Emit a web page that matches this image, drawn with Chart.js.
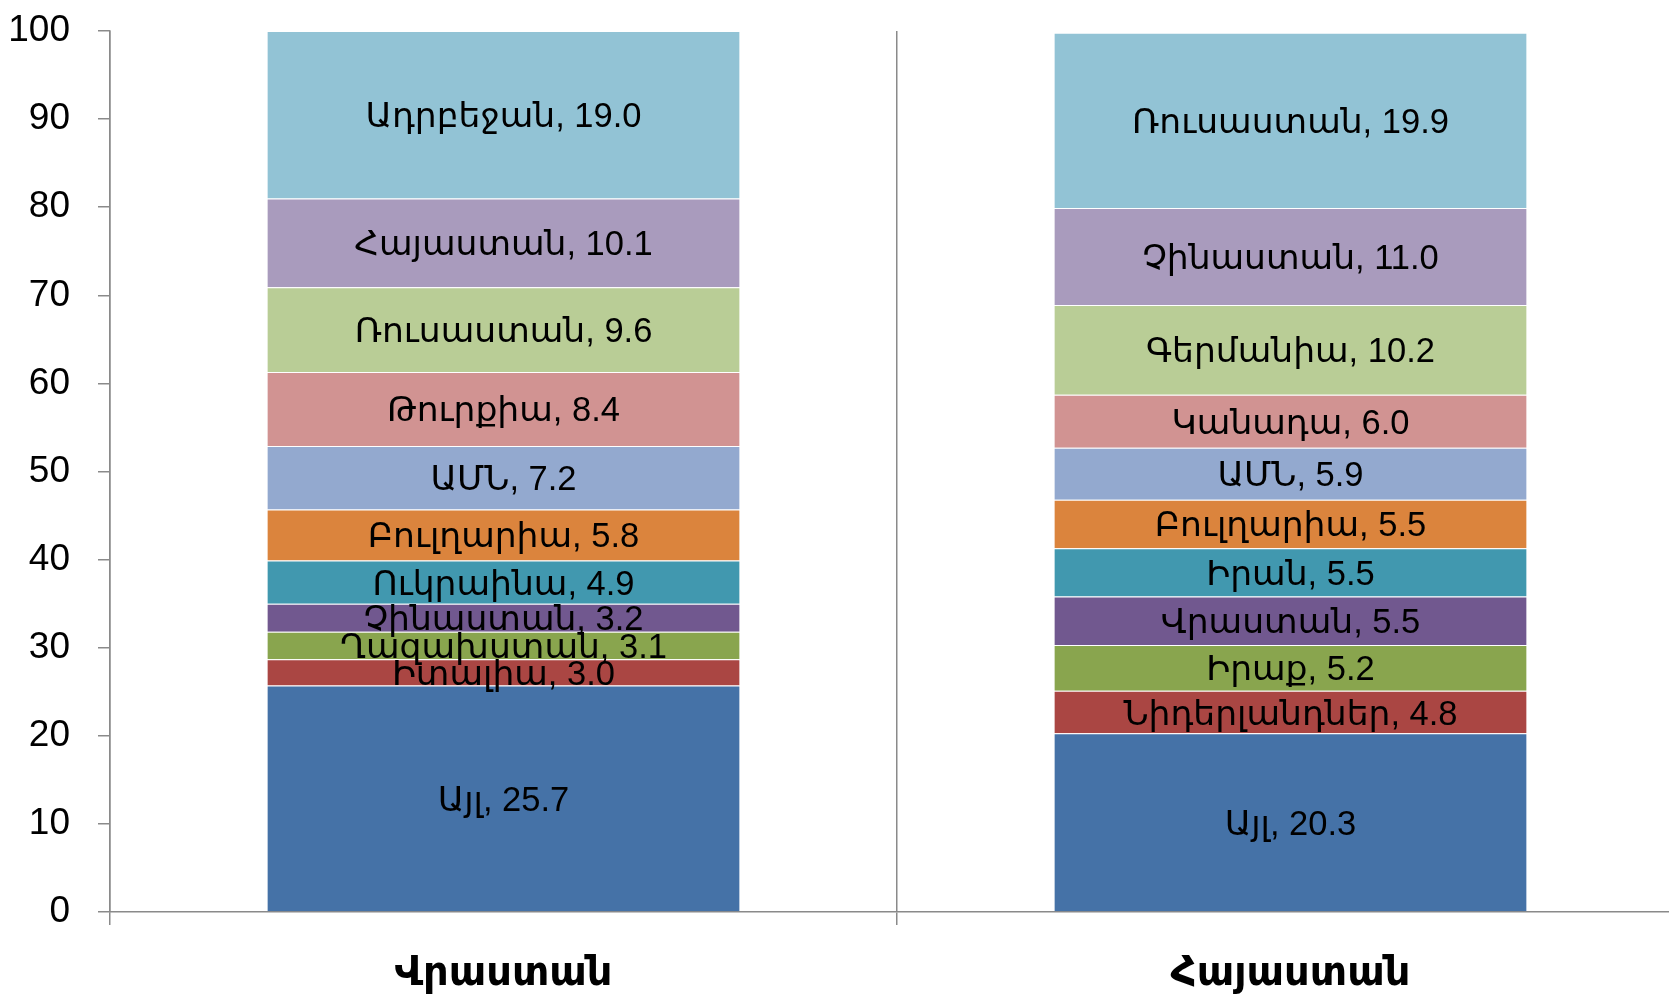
<!DOCTYPE html>
<html>
<head>
<meta charset="utf-8">
<script src="https://cdn.jsdelivr.net/npm/chart.js@4/dist/chart.umd.min.js"></script>
<style>
  html, body { margin: 0; padding: 0; background: #fff; overflow: hidden; }
  #wrap { width: 1669px; height: 998px; overflow: hidden; }
</style>
</head>
<body>
<div id="wrap"><canvas id="chart" width="1684" height="998"></canvas></div>
<script>
// ── DONNÉES ───────────────────────────────────────
const categories = ['Վրաստան', 'Հայաստան'];

const georgiaNames  = ['Այլ', 'Իտալիա', 'Ղազախստան', 'Չինաստան', 'Ուկրաինա', 'Բուլղարիա', 'ԱՄՆ', 'Թուրքիա', 'Ռուսաստան', 'Հայաստան', 'Ադրբեջան'];
const georgiaValues = [25.7, 3.0, 3.1, 3.2, 4.9, 5.8, 7.2, 8.4, 9.6, 10.1, 19.0];

const armeniaNames  = ['Այլ', 'Նիդերլանդներ', 'Իրաք', 'Վրաստան', 'Իրան', 'Բուլղարիա', 'ԱՄՆ', 'Կանադա', 'Գերմանիա', 'Չինաստան', 'Ռուսաստան'];
const armeniaValues = [20.3, 4.8, 5.2, 5.5, 5.5, 5.5, 5.9, 6.0, 10.2, 11.0, 19.9];

const yTicks = [0, 10, 20, 30, 40, 50, 60, 70, 80, 90, 100];

// ── COULEURS ──────────────────────────────────────
const COULEURS = ['#4572A7', '#AA4643', '#89A54E', '#71588F', '#4198AF', '#DB843D',
                  '#93A9CF', '#D19392', '#B9CD96', '#A99BBD', '#92C3D5'];
const AXE = '#8a8a8a';
const POLICE = '"Liberation Sans", "DejaVu Sans", sans-serif';

// une série par position dans la pile
const datasets = georgiaValues.map(function(v, i) {
  return {
    data: [georgiaValues[i], armeniaValues[i]],
    noms: [georgiaNames[i], armeniaNames[i]],
    backgroundColor: COULEURS[i],
    borderColor: 'rgba(255,255,255,0.45)',
    borderWidth: { top: 1 },
    borderSkipped: false,
    barPercentage: 0.6,
    categoryPercentage: 1
  };
});

// étiquettes au centre de chaque segment
const etiquettes = {
  id: 'etiquettes',
  afterDatasetsDraw(chart) {
    const ctx = chart.ctx;
    ctx.save();
    ctx.font = '34.5px ' + POLICE;
    ctx.fillStyle = '#000';
    ctx.textAlign = 'center';
    ctx.textBaseline = 'middle';
    chart.data.datasets.forEach(function(ds, i) {
      chart.getDatasetMeta(i).data.forEach(function(bar, j) {
        const y = (bar.y + bar.base) / 2 + 3;
        ctx.fillText(ds.noms[j] + ', ' + ds.data[j].toFixed(1), bar.x, y);
      });
    });
    ctx.restore();
  }
};

new Chart(document.getElementById('chart'), {
  type: 'bar',
  data: { labels: categories, datasets: datasets },
  options: {
    responsive: false,
    animation: false,
    layout: { padding: { top: 31, right: 0, left: 0, bottom: 0 } },
    plugins: { legend: { display: false }, tooltip: { enabled: false } },
    scales: {
      x: {
        stacked: true,
        offset: true,
        afterFit: function(axis) { axis.height = 86; },
        grid: { offset: true, color: AXE, lineWidth: 1.5, tickLength: 13, drawOnChartArea: true },
        border: { color: AXE, width: 1.5 },
        ticks: { color: '#000', padding: 25, font: { family: POLICE, size: 40, weight: 'bold' } }
      },
      y: {
        stacked: true,
        min: 0,
        max: 100,
        afterBuildTicks: function(axis) { axis.ticks = yTicks.map(v => ({ value: v })); },
        afterFit: function(axis) { axis.width = 110; axis.paddingTop = 0; axis.paddingBottom = 0; },
        grid: { drawOnChartArea: false, color: AXE, lineWidth: 1.5, tickLength: 12 },
        border: { color: AXE, width: 1.5 },
        ticks: { color: '#000', padding: 28, font: { family: POLICE, size: 37 } }
      }
    }
  },
  plugins: [etiquettes]
});
</script>
</body>
</html>
